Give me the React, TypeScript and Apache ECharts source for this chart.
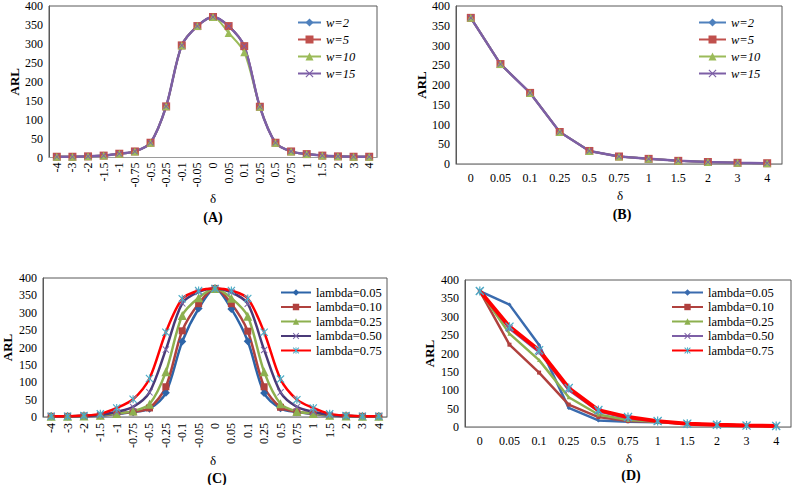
import React, { useEffect, useRef } from "react";
import * as echarts from "echarts";

const SERIF = '"Liberation Serif", "Times New Roman", serif';

const deltaFull = ["-4", "-3", "-2", "-1.5", "-1", "-0.75", "-0.5", "-0.25", "-0.1", "-0.05", "0", "0.05", "0.1", "0.25", "0.5", "0.75", "1", "1.5", "2", "3", "4"];
const deltaPos = ["0", "0.05", "0.1", "0.25", "0.5", "0.75", "1", "1.5", "2", "3", "4"];

// Panel A
const aW2 = [2, 2, 3, 5, 10, 16, 39, 135, 296, 347, 371, 347, 294, 134, 39, 16, 9, 5, 3, 2, 2];
const aW5 = [2, 2, 3, 5, 10, 16, 39, 135, 296, 347, 371, 347, 294, 134, 39, 16, 9, 5, 3, 2, 2];
const aW10 = [2, 2, 3, 5, 10, 16, 39, 135, 296, 347, 371, 329, 278, 134, 39, 16, 9, 5, 3, 2, 2];
const aW15 = [2, 2, 3, 5, 10, 16, 39, 135, 296, 347, 371, 347, 294, 134, 39, 16, 9, 5, 3, 2, 2];

// Panel B
const bW2 = [370, 253, 180, 81, 33, 19, 13, 8, 5, 3, 2];
const bW5 = [370, 253, 180, 81, 33, 19, 13, 8, 5, 3, 2];
const bW10 = [370, 253, 180, 81, 33, 19, 13, 8, 5, 3, 2];
const bW15 = [370, 253, 180, 81, 33, 19, 13, 8, 5, 3, 2];

// Panel C
const cL005 = [2, 2, 3, 4, 9, 14, 24, 70, 217, 312, 370, 311, 218, 69, 25, 14, 9, 4, 3, 2, 2];
const cL010 = [2, 2, 3, 4, 10, 15, 26, 87, 248, 326, 370, 326, 247, 87, 28, 15, 10, 4, 3, 2, 2];
const cL025 = [2, 2, 3, 5, 10, 17, 37, 130, 292, 343, 370, 342, 290, 130, 38, 16, 10, 5, 3, 2, 2];
const cL050 = [2, 2, 3, 6, 15, 29, 71, 194, 327, 360, 370, 359, 326, 193, 71, 29, 15, 6, 3, 2, 2];
const cL075 = [2, 2, 4, 9, 26, 51, 111, 244, 340, 364, 370, 364, 341, 244, 109, 50, 26, 9, 4, 2, 2];

// Panel D
const dL005 = [370, 333, 223, 52, 18, 14, 13, 9, 6, 4, 3];
const dL010 = [370, 224, 148, 61, 27, 16, 14, 9, 6, 4, 3];
const dL025 = [370, 254, 182, 81, 34, 19, 14, 9, 6, 4, 3];
const dL050 = [370, 268, 204, 101, 43, 24, 15, 9, 6, 4, 3];
const dL075 = [370, 273, 209, 106, 46, 27, 16, 9, 6, 4, 3];

const wNames = ["w=2", "w=5", "w=10", "w=15"];
const lNames = ["lambda=0.05", "lambda=0.10", "lambda=0.25", "lambda=0.50", "lambda=0.75"];

const X_SYM = "path://M0,1 L1,0 L5,4 L9,0 L10,1 L6,5 L10,9 L9,10 L5,6 L1,10 L0,9 L4,5 Z";
const STAR_SYM = "path://M0,1 L1,0 L5,4 L9,0 L10,1 L6,5 L10,9 L9,10 L5,6 L1,10 L0,9 L4,5 Z M4.3,0 L5.7,0 L5.7,10 L4.3,10 Z";

function ser(name: string, data: number[], idx: number, lineColor: string, markColor: string, symbol: string, size: number, width: number, smooth: number | boolean) {
  return {
    type: "line",
    name,
    data,
    xAxisIndex: idx,
    yAxisIndex: idx,
    symbol,
    symbolSize: size,
    smooth,
    lineStyle: { color: lineColor, width },
    itemStyle: { color: markColor },
    emphasis: { disabled: true },
  };
}

function yAx(idx: number, gap: number) {
  return {
    type: "value",
    gridIndex: idx,
    min: 0,
    max: 400,
    interval: 50,
    axisLabel: { fontFamily: SERIF, fontSize: 12, color: "#000", margin: 6 },
    axisLine: { show: true, lineStyle: { color: "#595959" } },
    axisTick: { show: false },
    splitLine: { show: false },
    name: "ARL",
    nameLocation: "middle",
    nameGap: gap,
    nameTextStyle: { fontFamily: SERIF, fontSize: 13, fontWeight: "bold", color: "#000" },
  };
}

function xAx(idx: number, data: string[], rotate: number, margin: number) {
  return {
    type: "category",
    gridIndex: idx,
    data,
    boundaryGap: true,
    axisLabel: { fontFamily: SERIF, fontSize: 12, color: "#000", rotate, interval: 0, margin },
    axisLine: { show: true, lineStyle: { color: "#9a9a9a" } },
    axisTick: { show: false },
    splitLine: { show: false },
  };
}

function leg(names: string[], prefix: string, left: number, top: number, iw: number, ih: number, gap: number, italic: boolean) {
  return {
    orient: "vertical",
    left,
    top,
    padding: 0,
    itemWidth: iw,
    itemHeight: ih,
    itemGap: gap,
    data: names.map((n) => prefix + n),
    formatter: (n: string) => n.slice(prefix.length),
    textStyle: { fontFamily: SERIF, fontSize: 12.5, color: "#000", fontStyle: italic ? "italic" : "normal" },
    selectedMode: false,
  };
}

function txt(text: string, x: number, y: number, bold: boolean, size: number) {
  return {
    type: "text",
    x,
    y,
    style: { text, fill: "#000", font: `${bold ? "bold " : ""}${size}px ${SERIF}`, textAlign: "center", textVerticalAlign: "middle" },
  };
}

const grid = { show: true, borderColor: "#595959", borderWidth: 1, backgroundColor: "transparent" };

const option = {
  animation: false,
  backgroundColor: "#fff",
  grid: [
    { ...grid, left: 49, top: 5, width: 328, height: 152.5 },
    { ...grid, left: 456, top: 5, width: 326, height: 159 },
    { ...grid, left: 41, top: 278, width: 346, height: 139 },
    { ...grid, left: 465, top: 280, width: 326, height: 147 },
  ],
  xAxis: [xAx(0, deltaFull, 90, 5), xAx(1, deltaPos, 0, 8), xAx(2, deltaFull, 90, 6), xAx(3, deltaPos, 0, 8)],
  yAxis: [yAx(0, 28), yAx(1, 28), yAx(2, 29), yAx(3, 29)],
  legend: [
    leg(wNames, "A:", 297, 16, 23, 10, 4, true),
    leg(wNames, "B:", 698, 16, 27, 10, 4, true),
    leg(lNames, "C:", 280, 286, 30, 8, 1.5, false),
    leg(lNames, "D:", 671, 286, 31, 8, 1.5, false),
  ],
  graphic: [
    txt("δ", 213, 198, false, 13),
    txt("(A)", 213, 217, true, 14),
    txt("δ", 620, 195, false, 13),
    txt("(B)", 622, 214, true, 14),
    txt("δ", 213, 460, false, 13),
    txt("(C)", 217, 478, true, 14),
    txt("δ", 629, 458, false, 13),
    txt("(D)", 631, 475, true, 14),
  ],
  series: [
    ser("A:w=2", aW2, 0, "#4F81BD", "#4F81BD", "diamond", 7, 2, 0.3),
    ser("A:w=5", aW5, 0, "#C0504D", "#C0504D", "rect", 8, 2, 0.3),
    ser("A:w=10", aW10, 0, "#9BBB59", "#9BBB59", "triangle", 8, 2, 0.3),
    ser("A:w=15", aW15, 0, "#7D5FA6", "#7D5FA6", X_SYM, 6, 2.5, 0.3),

    ser("B:w=2", bW2, 1, "#4F81BD", "#4F81BD", "diamond", 7, 2, false),
    ser("B:w=5", bW5, 1, "#C0504D", "#C0504D", "rect", 8, 2, false),
    ser("B:w=10", bW10, 1, "#9BBB59", "#9BBB59", "triangle", 8, 2, false),
    ser("B:w=15", bW15, 1, "#7D5FA6", "#7D5FA6", X_SYM, 6, 2.5, false),

    ser("C:lambda=0.05", cL005, 2, "#2C64A8", "#2C64A8", "diamond", 8, 2.5, 0.3),
    ser("C:lambda=0.10", cL010, 2, "#B0413E", "#B0413E", "rect", 7, 2.5, 0.3),
    ser("C:lambda=0.25", cL025, 2, "#8DB04F", "#8DB04F", "triangle", 9, 2.5, 0.3),
    ser("C:lambda=0.50", cL050, 2, "#4A3A78", "#7A66A6", X_SYM, 7, 2.5, 0.3),
    ser("C:lambda=0.75", cL075, 2, "#FF0000", "#4BACC6", STAR_SYM, 8, 2.5, 0.3),

    ser("D:lambda=0.05", dL005, 3, "#3A6BAE", "#3A6BAE", "diamond", 4, 2.5, false),
    ser("D:lambda=0.10", dL010, 3, "#B0413E", "#B0413E", "rect", 4, 2.5, false),
    ser("D:lambda=0.25", dL025, 3, "#8DB04F", "#8DB04F", "triangle", 4, 2.5, false),
    ser("D:lambda=0.50", dL050, 3, "#7D5FA6", "#7D5FA6", X_SYM, 7, 2.5, false),
    ser("D:lambda=0.75", dL075, 3, "#FF0000", "#4BACC6", STAR_SYM, 9, 4, false),
  ],
};

export default function App() {
  const ref = useRef<HTMLDivElement>(null);
  useEffect(() => {
    const chart = echarts.init(ref.current as HTMLDivElement, null, { renderer: "svg" });
    chart.setOption(option as any);
    return () => chart.dispose();
  }, []);
  return (
    <div
      ref={ref}
      style={{ position: "fixed", left: 0, top: 0, width: 795, height: 485, background: "#fff" }}
    />
  );
}
